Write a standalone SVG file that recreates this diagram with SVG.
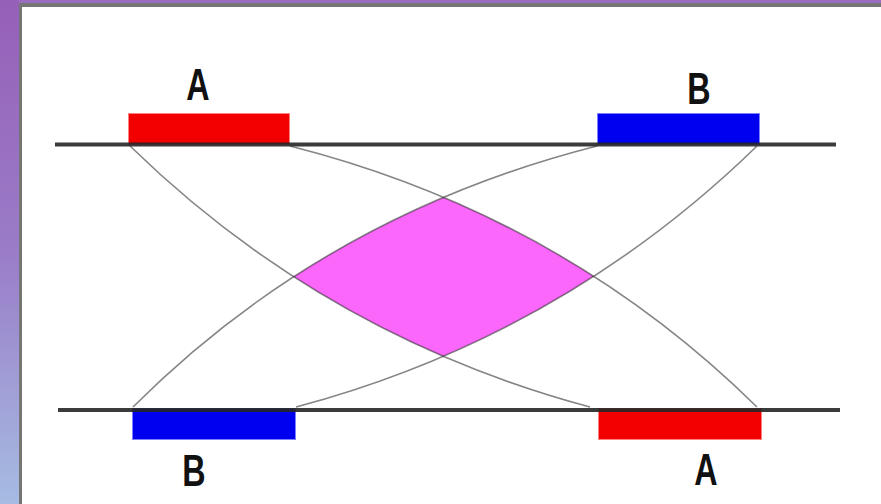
<svg xmlns="http://www.w3.org/2000/svg" width="881" height="504" viewBox="0 0 881 504">
  <defs>
    <linearGradient id="sideGrad" x1="0" y1="0" x2="0" y2="1">
      <stop offset="0" stop-color="#9660b8"/>
      <stop offset="0.5" stop-color="#9a7cc8"/>
      <stop offset="1" stop-color="#a6bce2"/>
    </linearGradient>
    <!-- band between the two curves that run down to the right -->
    <clipPath id="bandDown">
      <path d="M290,146 Q562,215 757,407 L590,407 Q325,336 130,146 Z"/>
    </clipPath>
    <!-- band between the two curves that run down to the left -->
    <clipPath id="bandUp">
      <path d="M597,146 Q325,215 133,407 L296,407 Q562,336 757,146 Z"/>
    </clipPath>
    <style>
      .label { font-family: "Liberation Sans", Arial, sans-serif; font-size: 34px; font-weight: bold; fill: #111; text-anchor: middle; }
      .chrom { stroke: #262626; stroke-width: 4; stroke-linecap: butt; opacity: 0.9; }
      .link { fill: none; stroke: #333333; stroke-width: 1.6; opacity: 0.6; }
      .segA { fill: #f20000; stroke: #ff8080; stroke-width: 1; }
      .segB { fill: #0000f0; stroke: #8080ff; stroke-width: 1; }
    </style>
  </defs>

  <!-- page background and frame -->
  <rect x="0" y="0" width="881" height="504" fill="#ffffff"/>
  <rect x="0" y="0" width="881" height="3" fill="#9a6cc0"/>
  <rect x="0" y="0" width="19" height="504" fill="url(#sideGrad)"/>
  <rect x="19" y="3" width="862" height="4" fill="#757575"/>
  <rect x="19" y="3" width="3" height="501" fill="#757575"/>

  <!-- overlap region -->
  <g id="overlap">
    <g clip-path="url(#bandDown)">
      <rect x="100" y="140" width="700" height="280" fill="#fb66fb" clip-path="url(#bandUp)"/>
    </g>
  </g>

  <!-- connectors -->
  <g id="connectors">
    <path class="link" d="M130,146 Q325,336 590,407"/>
    <path class="link" d="M290,146 Q562,215 757,407"/>
    <path class="link" d="M597,146 Q325,215 133,407"/>
    <path class="link" d="M757,146 Q562,336 296,407"/>
  </g>

  <!-- upper chromosome -->
  <g id="top-A">
    <rect class="segA" x="128.5" y="113.5" width="161" height="31"/>
    <text class="label" transform="translate(198,100) scale(0.95,1.28)">A</text>
  </g>
  <g id="top-B">
    <rect class="segB" x="597.5" y="113.5" width="162" height="31"/>
    <text class="label" transform="translate(699,104) scale(0.95,1.28)">B</text>
  </g>
  <g id="top-line">
    <line class="chrom" x1="55" y1="144.5" x2="836" y2="144.5"/>
  </g>

  <!-- lower chromosome -->
  <g id="bottom-B">
    <rect class="segB" x="132.5" y="408.5" width="163" height="31"/>
    <text class="label" transform="translate(194,486) scale(0.95,1.28)">B</text>
  </g>
  <g id="bottom-A">
    <rect class="segA" x="598.5" y="408.5" width="163" height="31"/>
    <text class="label" transform="translate(706,485) scale(0.95,1.28)">A</text>
  </g>
  <g id="bottom-line">
    <line class="chrom" x1="58" y1="410" x2="840" y2="410"/>
  </g>
</svg>
